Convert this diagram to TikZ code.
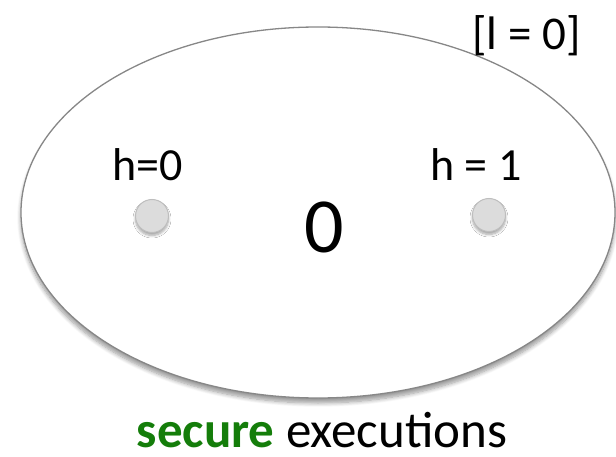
\documentclass[tikz,border=0pt]{standalone}
\usepackage{fontspec}
\setmainfont{Carlito}
\usetikzlibrary{shapes.geometric,shadows.blur}
\definecolor{rimgray}{RGB}{135,135,135}
\definecolor{dotfill}{RGB}{220,220,220}
\definecolor{dotrim}{RGB}{190,190,190}
\definecolor{securegreen}{RGB}{20,125,10}
\tikzset{
  region/.style={ellipse, draw=rimgray, fill=white, line width=1.3pt, minimum width=594pt, minimum height=371pt, inner sep=0pt,
    blur shadow={shadow xshift=0pt, shadow yshift=-5pt, shadow opacity=40, shadow blur steps=8, shadow blur radius=4pt}},
  state/.style={circle, draw=dotrim, fill=dotfill, line width=1pt, minimum size=33pt, inner sep=0pt,
    blur shadow={shadow xshift=0pt, shadow yshift=-3pt, shadow opacity=35, shadow blur steps=6, shadow blur radius=2.5pt}},
  label/.style={inner sep=0pt, anchor=base, font=\fontsize{46}{52}\selectfont},
}
\begin{document}
\begin{tikzpicture}[x=1pt,y=1pt]
  \useasboundingbox (0,0) rectangle (616,456);
  % outer set of executions
  \node[region] (execs) at (318,243.5) {};
  % low-input annotation
  \node[label, font=\fontsize{47}{52}\selectfont] (low) at (526.5,406) {[l = 0]};
  % the two high inputs
  \node[state] (h0) at (152,240) {};
  \node[state] (h1) at (489,241) {};
  \node[label] (h0txt) at (147.5,275) {h=0};
  \node[label] (h1txt) at (476,275) {h = 1};
  % common observable output
  \node[inner sep=0pt, anchor=base, font=\fontsize{78}{90}\selectfont] (out) at (324,204) {0};
  % caption
  \node[inner sep=0pt, anchor=base, font=\fontsize{51}{58}\selectfont] (caption) at (322,9)
    {\textcolor{securegreen}{\textbf{secure}} executions};
\end{tikzpicture}
\end{document}
